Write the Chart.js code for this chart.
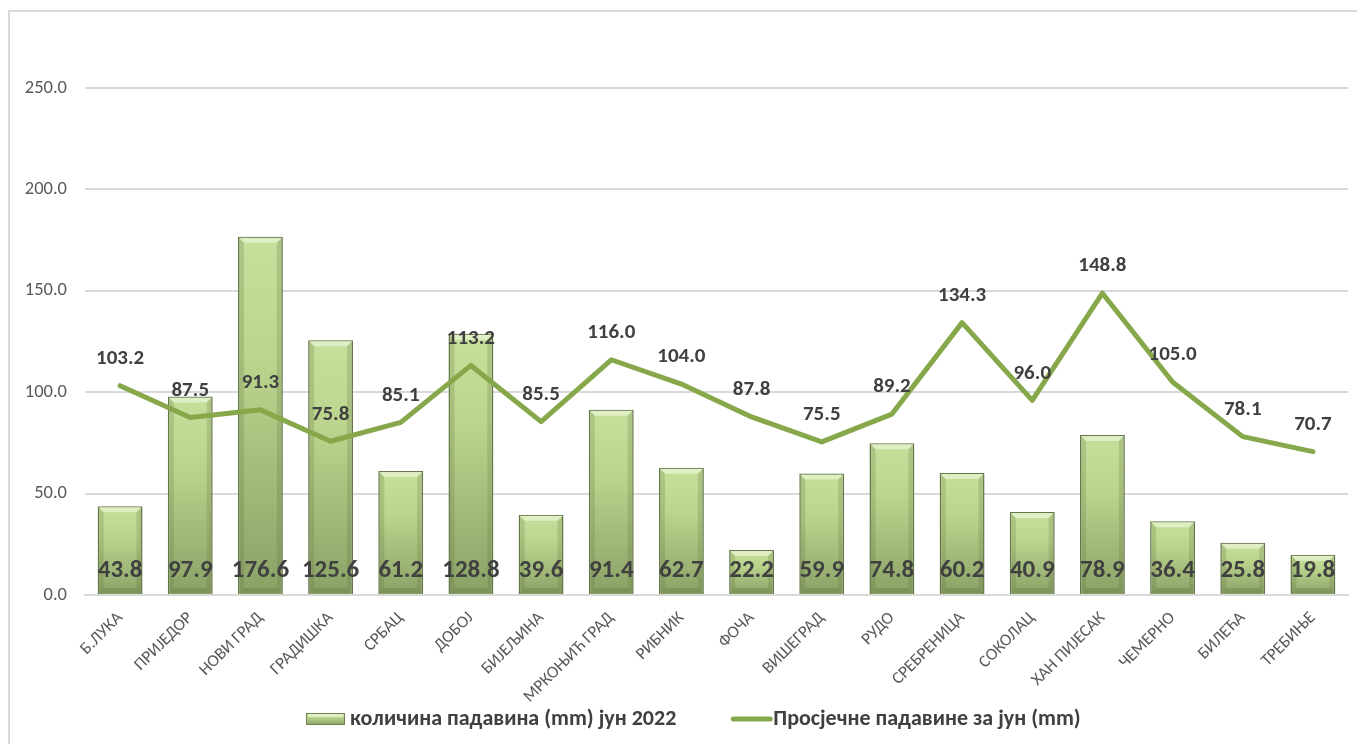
<!DOCTYPE html>
<html><head><meta charset="utf-8">
<script src="https://cdn.jsdelivr.net/npm/chart.js@4"></script>
<style>
html,body{margin:0;padding:0;background:#fff;overflow:hidden}
#frame{position:absolute;left:8px;top:10px;width:1400px;height:800px;border-top:2px solid #d9d9d9;border-left:2px solid #d9d9d9}
#wrap{position:absolute;left:0;top:0;width:1357px;height:744px}
</style></head><body>
<div id="frame"></div>
<div id="wrap"><canvas id="c"></canvas></div>
<script>
const stations = ['Б.ЛУКА','ПРИЈЕДОР','НОВИ ГРАД','ГРАДИШКА','СРБАЦ','ДОБОЈ','БИЈЕЉИНА','МРКОЊИЋ ГРАД','РИБНИК','ФОЧА','ВИШЕГРАД','РУДО','СРЕБРЕНИЦА','СОКОЛАЦ','ХАН ПИЈЕСАК','ЧЕМЕРНО','БИЛЕЋА','ТРЕБИЊЕ'];
const rainJune2022 = [43.8,97.9,176.6,125.6,61.2,128.8,39.6,91.4,62.7,22.2,59.9,74.8,60.2,40.9,78.9,36.4,25.8,19.8];
const avgJune = [103.2,87.5,91.3,75.8,85.1,113.2,85.5,116.0,104.0,87.8,75.5,89.2,134.3,96.0,148.8,105.0,78.1,70.7];
const yTickValues = [0,50,100,150,200,250];
const seriesNames = ['количина падавина (mm) јун 2022','Просјечне падавине за јун (mm)'];

const FONT = "Calibri, Carlito, Lato, Roboto, 'Noto Sans', sans-serif";
const LINE_COLOR = '#86a84a';
const LABEL_COLOR = '#404040';

function makeBarGradient(c, top, base){
  const g = c.createLinearGradient(0, top, 0, base);
  g.addColorStop(0, '#c6df9b');
  g.addColorStop(0.35, '#bbd48d');
  g.addColorStop(1, '#8aa166');
  return g;
}
function barFill(ctx){
  const chart = ctx.chart, y = chart.scales && chart.scales.y;
  if (!y || ctx.type !== 'data') return '#b5cd88';
  const top = y.getPixelForValue(ctx.raw), base = y.getPixelForValue(0);
  if (!isFinite(top) || !isFinite(base) || base - top < 1) return '#b5cd88';
  return makeBarGradient(chart.ctx, top, base);
}

const bevelPlugin = {
  id: 'bevel',
  afterDatasetDraw(chart, args){
    if (args.index !== 0) return;
    const c = chart.ctx;
    args.meta.data.forEach(el => {
      const l = el.x - el.width/2, r = el.x + el.width/2, t = el.y, b = el.base;
      const d = Math.min(6, (b - t)/3);
      c.save();
      c.fillStyle = 'rgba(232,244,208,0.75)';
      c.beginPath(); c.moveTo(l+1,t+1); c.lineTo(r-1,t+1); c.lineTo(r-d,t+d); c.lineTo(l+d,t+d); c.closePath(); c.fill();
      c.fillStyle = 'rgba(90,110,55,0.22)';
      c.beginPath(); c.moveTo(l+1,t+1); c.lineTo(l+d,t+d); c.lineTo(l+d,b-d); c.lineTo(l+1,b-1); c.closePath(); c.fill();
      c.beginPath(); c.moveTo(r-1,t+1); c.lineTo(r-d,t+d); c.lineTo(r-d,b-d); c.lineTo(r-1,b-1); c.closePath(); c.fill();
      c.fillStyle = 'rgba(80,100,50,0.25)';
      c.beginPath(); c.moveTo(l+1,b-1); c.lineTo(l+d,b-d); c.lineTo(r-d,b-d); c.lineTo(r-1,b-1); c.closePath(); c.fill();
      c.restore();
    });
  }
};

const labelsPlugin = {
  id: 'valueLabels',
  afterDatasetsDraw(chart){
    const c = chart.ctx;
    c.save();
    c.fillStyle = LABEL_COLOR;
    c.textAlign = 'center';
    c.textBaseline = 'middle';
    const barMeta = chart.getDatasetMeta(0);
    c.font = 'bold 25px ' + FONT;
    barMeta.data.forEach((el, i) => {
      c.fillText(rainJune2022[i].toFixed(1), el.x, el.base - 23);
    });
    const lineMeta = chart.getDatasetMeta(1);
    c.font = 'bold 21px ' + FONT;
    lineMeta.data.forEach((el, i) => {
      c.fillText(avgJune[i].toFixed(1), el.x, el.y - 27);
    });
    c.restore();
  }
};

const legendPlugin = {
  id: 'customLegend',
  afterDraw(chart){
    const c = chart.ctx;
    c.save();
    c.font = 'bold 22px ' + FONT;
    c.fillStyle = LABEL_COLOR;
    c.textBaseline = 'middle';
    c.textAlign = 'left';
    const yMid = 719;
    let x = 306;
    c.fillStyle = makeBarGradient(c, yMid-6, yMid+6);
    c.fillRect(x, yMid-6, 39, 12);
    c.strokeStyle = '#6f8450'; c.lineWidth = 1;
    c.strokeRect(x+0.5, yMid-5.5, 38, 11);
    c.fillStyle = 'rgba(232,244,208,0.8)';
    c.fillRect(x+2, yMid-5, 35, 3);
    x += 39 + 5;
    c.fillStyle = LABEL_COLOR;
    c.fillText(seriesNames[0], x, yMid);
    x += c.measureText(seriesNames[0]).width + 54;
    c.strokeStyle = LINE_COLOR; c.lineWidth = 5; c.lineCap = 'round';
    c.beginPath(); c.moveTo(x+3, yMid); c.lineTo(x+40, yMid); c.stroke();
    x += 43;
    c.fillStyle = LABEL_COLOR;
    c.fillText(seriesNames[1], x, yMid);
    c.restore();
  }
};

new Chart(document.getElementById('c'), {
  data: {
    labels: stations,
    datasets: [
      {
        type: 'bar', label: seriesNames[0], data: rainJune2022, order: 1,
        backgroundColor: barFill, borderColor: '#65794a', borderWidth: 1.5,
        barPercentage: 0.64, categoryPercentage: 1
      },
      {
        type: 'line', label: seriesNames[1], data: avgJune, order: 0,
        borderColor: LINE_COLOR, borderWidth: 5, pointRadius: 0, tension: 0,
        borderJoinStyle: 'round', borderCapStyle: 'round', fill: false
      }
    ]
  },
  options: {
    responsive: true, maintainAspectRatio: false, animation: false,
    layout: { padding: { left: 0, right: 9, top: 88, bottom: 0 } },
    plugins: { legend: { display: false }, tooltip: { enabled: false } },
    scales: {
      x: {
        grid: { display: false, drawTicks: false },
        border: { display: true, color: '#d9d9d9', width: 2 },
        ticks: { autoSkip: false, minRotation: 45, maxRotation: 45, padding: 13,
          color: '#595959', font: { family: FONT, size: 17 } },
        afterFit(s){ s.height = 149; }
      },
      y: {
        min: 0, max: 250,
        afterBuildTicks(s){ s.ticks = yTickValues.map(v => ({ value: v })); },
        grid: { color: '#d9d9d9', lineWidth: 2, drawTicks: false },
        border: { display: false },
        ticks: { padding: 18, color: '#595959', font: { family: FONT, size: 18.5 },
          callback: v => Number(v).toFixed(1) },
        afterFit(s){ s.width = 85; }
      }
    }
  },
  plugins: [bevelPlugin, labelsPlugin, legendPlugin]
});
</script>
</body></html>
